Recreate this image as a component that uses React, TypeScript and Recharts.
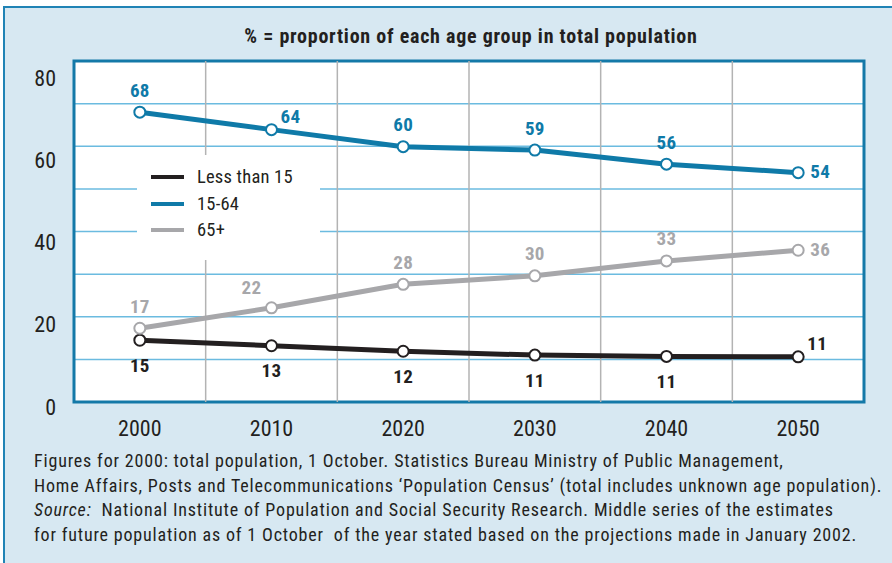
import React from 'react'
import {
  LineChart, Line, XAxis, YAxis, CartesianGrid, Legend, ReferenceLine, ReferenceArea
} from 'recharts'

const years = [2000, 2010, 2020, 2030, 2040, 2050]
const under15 = [14.5, 13.2, 11.9, 11.0, 10.7, 10.6]
const age15to64 = [68.0, 63.9, 59.9, 59.1, 55.8, 53.8]
const over65 = [17.3, 22.1, 27.6, 29.6, 33.1, 35.6]
const seriesNames = ['Less than 15', '15-64', '65+']
const yTicks = [0, 10, 20, 30, 40, 50, 60, 70, 80]
const yLabelTicks = [0, 20, 40, 60, 80]

const title = '% = proportion of each age group in total population'
const notes = [
  'Figures for 2000: total population, 1 October. Statistics Bureau Ministry of Public Management,',
  'Home Affairs, Posts and Telecommunications \u2018Population Census\u2019 (total includes unknown age population).',
  '  National Institute of Population and Social Security Research. Middle series of the estimates',
  'for future population as of 1 October  of the year stated based on the projections made in January 2002.',
]

const data = years.map((year, i) => ({
  year,
  under15: under15[i],
  mid: age15to64[i],
  over65: over65[i],
}))

// midpoints between categories, where the grey vertical rules sit
const dividers = years.slice(1).map((y, i) => (y + years[i]) / 2)

const FONT = '"Roboto Condensed", "Liberation Sans Narrow", "Arial Narrow", sans-serif'
const INK = '#231f20'
const BLUE = '#0f7aa8'
const GREY = '#a7a7aa'

// where each data label sits relative to its point
const OFFSETS: Record<string, [number, number]> = {
  top: [0, -22],
  bottom: [0, 25],
  right: [22, -1],
  topRight: [19, -13],
  topLeft: [-20, -20],
}
const under15Pos = ['bottom', 'bottom', 'bottom', 'bottom', 'bottom', 'topRight']
const midPos = ['top', 'topRight', 'top', 'top', 'top', 'right']
const over65Pos = ['top', 'topLeft', 'top', 'top', 'top', 'right']

const makeLabel = (color: string, pos: string[]) => (props: any) => {
  const { x, y, value, index } = props
  const [dx, dy] = OFFSETS[pos[index]]
  return (
    <text
      key={`l-${index}`}
      x={x + dx}
      y={y + dy}
      textAnchor="middle"
      dominantBaseline="central"
      fill={color}
      fontFamily={FONT}
      fontWeight="bold"
      fontSize={19}
      letterSpacing={0.3}
    >
      {Math.round(value)}
    </text>
  )
}

const YTick = (props: any) => {
  const { x, y, payload } = props
  const v = payload.value
  if (!yLabelTicks.includes(v)) return <g />
  return (
    <text x={x} y={y + 5 + v * 0.15} textAnchor="end" dominantBaseline="central"
      fill={INK} fontFamily={FONT} fontSize={22}>
      {v}
    </text>
  )
}

const LegendBox = (props: any) => {
  const items = seriesNames
    .map((n) => (props.payload || []).find((p: any) => p.value === n))
    .filter(Boolean)
  return (
    <div style={{ background: '#fff', width: 183, height: 105, position: 'relative' }}>
      {items.map((p: any, i: number) => (
        <div key={p.value} style={{ position: 'absolute', left: 14, top: 22 + i * 26.5 - 12, height: 24, display: 'flex', alignItems: 'center' }}>
          <div style={{ width: 33, height: 4, background: p.color }} />
          <span style={{ marginLeft: 13, fontFamily: FONT, fontSize: 18.5, color: INK, letterSpacing: 0.2 }}>{p.value}</span>
        </div>
      ))}
    </div>
  )
}

export default function App() {
  return (
    <div style={{ position: 'absolute', left: 0, top: 0, width: 892, height: 563, overflow: 'hidden', background: '#fff' }}>
      <div style={{
        position: 'absolute', left: 3, top: 6, width: 900, height: 570,
        background: '#d7e8f2', borderLeft: '2px solid #2083b5', borderTop: '2px solid #2083b5',
      }} />
      <div style={{
        position: 'absolute', left: 0, top: 23, width: 942, textAlign: 'center',
        fontFamily: FONT, fontWeight: 'bold', fontSize: 20, color: INK, lineHeight: '26px',
        letterSpacing: 0.75,
      }}>
        {title}
      </div>
      <div style={{ position: 'absolute', left: 0, top: 0 }}>
        <LineChart width={892} height={563} data={data} margin={{ top: 61, right: 28, bottom: 131, left: 0 }}>
          <CartesianGrid vertical={false} stroke="#6bbbe0" strokeWidth={1.5} fill="#fff" fillOpacity={1} />
          {dividers.map((d) => (
            <ReferenceLine key={d} x={d} stroke="#b3b3b3" strokeWidth={1.5} />
          ))}
          <XAxis
            dataKey="year"
            type="number"
            domain={[1995, 2055]}
            ticks={years}
            tickLine={false}
            axisLine={false}
            tickMargin={12}
            height={30}
            tick={{ fill: INK, fontFamily: FONT, fontSize: 22 }}
          />
          <YAxis
            domain={[0, 80]}
            ticks={yTicks}
            width={74}
            tickLine={false}
            axisLine={false}
            tickMargin={12}
            tick={<YTick />}
          />
          <Legend
            layout="vertical"
            align="center"
            verticalAlign="middle"
            content={<LegendBox />}
            wrapperStyle={{ left: 137, top: 155, width: 183, height: 105 }}
          />
          <Line
            dataKey="under15" name={seriesNames[0]} stroke={INK} strokeWidth={5}
            dot={{ r: 5.5, fill: '#fff', stroke: INK, strokeWidth: 2 }}
            label={makeLabel(INK, under15Pos)}
            isAnimationActive={false}
          />
          <Line
            dataKey="mid" name={seriesNames[1]} stroke={BLUE} strokeWidth={5}
            dot={{ r: 5.5, fill: '#fff', stroke: BLUE, strokeWidth: 2 }}
            label={makeLabel(BLUE, midPos)}
            isAnimationActive={false}
          />
          <Line
            dataKey="over65" name={seriesNames[2]} stroke={GREY} strokeWidth={5}
            dot={{ r: 5.5, fill: '#fff', stroke: GREY, strokeWidth: 2 }}
            label={makeLabel(GREY, over65Pos)}
            isAnimationActive={false}
          />
          <ReferenceArea x1={1995} x2={2055} y1={0} y2={80} fill="none" stroke="#1479a8" strokeWidth={3} />
        </LineChart>
      </div>
      <div style={{
        position: 'absolute', left: 34, top: 449, fontFamily: FONT, fontSize: 18,
        lineHeight: '24.6px', color: INK, whiteSpace: 'pre', letterSpacing: 0.83,
      }}>
        <div>{notes[0]}</div>
        <div>{notes[1]}</div>
        <div><i>Source:</i>{notes[2]}</div>
        <div>{notes[3]}</div>
      </div>
    </div>
  )
}
